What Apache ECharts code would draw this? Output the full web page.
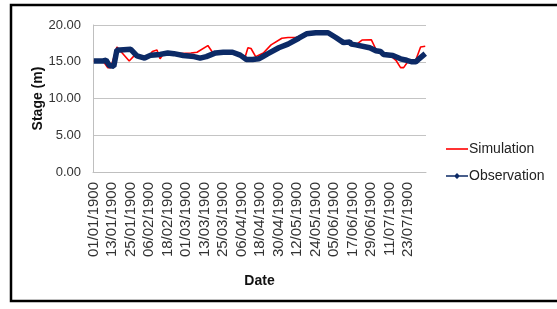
<!DOCTYPE html>
<html>
<head>
<meta charset="utf-8">
<title>Stage</title>
<script src="https://cdn.jsdelivr.net/npm/echarts@6/dist/echarts.min.js"></script>
<style>
  html, body { margin: 0; padding: 0; background: #fff; }
  #chart { width: 557px; height: 309px; }
</style>
</head>
<body>
<div id="chart"></div>
<script>
// excel date axis (it has 29/02/1900)
var monthDays = [31, 29, 31, 30, 31, 30, 31, 31]
var dayCount = 216

// observation (day index, stage m)
var obsDays  = [0, 6, 8, 10, 13, 15, 17, 24, 28, 33, 37, 43, 48, 52, 58, 65, 69, 73, 79, 84, 90, 95, 99, 103, 107, 110, 113, 120, 126, 133, 138, 144, 152, 157, 162, 166, 167, 170, 179, 183, 186, 188, 194, 199, 203, 206, 209, 211, 215]
var obsStage = [15.1, 15.1, 15.2, 14.5, 14.4, 16.6, 16.6, 16.7, 15.8, 15.5, 15.9, 16.0, 16.2, 16.1, 15.85, 15.7, 15.5, 15.7, 16.2, 16.3, 16.3, 15.9, 15.3, 15.3, 15.4, 15.75, 16.1, 16.9, 17.4, 18.2, 18.8, 18.95, 18.95, 18.3, 17.6, 17.7, 17.4, 17.3, 16.9, 16.5, 16.4, 16.0, 15.85, 15.4, 15.2, 15.0, 15.0, 15.4, 16.1]

// simulation
var simDays  = [0, 6, 9, 11, 15, 18, 23, 27, 31, 35, 38, 41, 43, 45, 50, 56, 63, 67, 74, 77, 80, 90, 95, 98, 100, 102, 105, 110, 115, 122, 126, 131, 134, 138, 144, 152, 157, 163, 170, 174, 180, 183, 188, 192, 196, 199, 201, 204, 207, 209, 212, 215]
var simStage = [15.1, 15.1, 14.2, 14.2, 17.0, 16.3, 15.1, 16.0, 15.6, 15.5, 16.4, 16.6, 15.4, 16.0, 16.1, 16.1, 16.2, 16.3, 17.2, 16.3, 16.3, 16.3, 15.9, 15.5, 16.9, 16.8, 15.7, 16.2, 17.3, 18.2, 18.3, 18.3, 18.5, 18.8, 18.95, 18.95, 18.3, 17.5, 17.3, 17.95, 18.0, 16.7, 16.1, 15.9, 15.2, 14.2, 14.2, 15.1, 14.9, 15.3, 17.0, 17.1]

var yTicks = [0, 5, 10, 15, 20]

function pad(n){
  return n < 10 ? '0' + n : '' + n
}

var dates = []
var m = 0, d = 1
for (var i = 0; i < dayCount; i++) {
  dates.push(pad(d) + '/' + pad(m + 1) + '/1900')
  d++
  if (d > monthDays[m]) { d = 1; m++ }
}

function pairs(xs, ys){
  return xs.map(function(x, k){ return [x, ys[k]] })
}

var font = "'Liberation Sans', Arial, sans-serif"

var chart = echarts.init(document.getElementById('chart'))
chart.setOption({
  animation: false,
  textStyle: { fontFamily: font },
  grid: { left: 93, right: 131, top: 25, bottom: 137 },
  legend: {
    orient: 'vertical',
    left: 441,
    top: 137,
    itemWidth: 22,
    itemHeight: 8,
    itemGap: 13,
    itemStyle: { borderWidth: 0 },
    textStyle: { fontSize: 14, color: '#222', fontFamily: font, padding: [0, 0, 0, -4] },
    data: [
      { name: 'Simulation', icon: 'path://M0,3.2 H22 V4.8 H0 Z' },
      { name: 'Observation', icon: 'path://M0,3.3 H22 V4.7 H0 Z M11,1 L14,4 L11,7 L8,4 Z' }
    ]
  },
  xAxis: {
    type: 'category',
    data: dates,
    boundaryGap: true,
    name: 'Date',
    nameLocation: 'middle',
    nameGap: 102,
    nameMoveOverlap: false,
    nameTextStyle: { fontSize: 14, fontWeight: 'bold', color: '#111' },
    axisLine: { lineStyle: { color: '#bfbfbf', width: 1 } },
    axisTick: { show: false },
    axisLabel: {
      interval: 11,
      rotate: 90,
      margin: 10,
      fontSize: 15,
      color: '#333'
    },
    splitLine: { show: false }
  },
  yAxis: {
    type: 'value',
    min: yTicks[0],
    max: yTicks[yTicks.length - 1],
    interval: 5,
    name: 'Stage (m)',
    nameLocation: 'middle',
    nameRotate: 90,
    nameGap: 48,
    nameMoveOverlap: false,
    nameTextStyle: { fontSize: 14, fontWeight: 'bold', color: '#111' },
    axisLine: { show: true, lineStyle: { color: '#bfbfbf', width: 1 } },
    axisTick: { show: false },
    axisLabel: {
      margin: 12,
      fontSize: 13,
      color: '#333',
      formatter: function(v){ return v.toFixed(2) }
    },
    splitLine: { lineStyle: { color: '#c4c4c4', width: 1 } }
  },
  series: [
    {
      name: 'Simulation',
      type: 'line',
      data: pairs(simDays, simStage),
      symbol: 'none',
      color: '#ff0000',
      lineStyle: { width: 1.6, color: '#ff0000' }
    },
    {
      name: 'Observation',
      type: 'line',
      data: pairs(obsDays, obsStage),
      symbol: 'diamond',
      showSymbol: false,
      color: '#0c2a66',
      lineStyle: { width: 5.5, color: '#0c2a66' }
    }
  ],
  graphic: [
    {
      type: 'rect',
      shape: { x: 11, y: 5, width: 560, height: 296 },
      style: { fill: 'none', stroke: '#000', lineWidth: 2.5 },
      silent: true
    }
  ]
})
</script>
</body>
</html>
